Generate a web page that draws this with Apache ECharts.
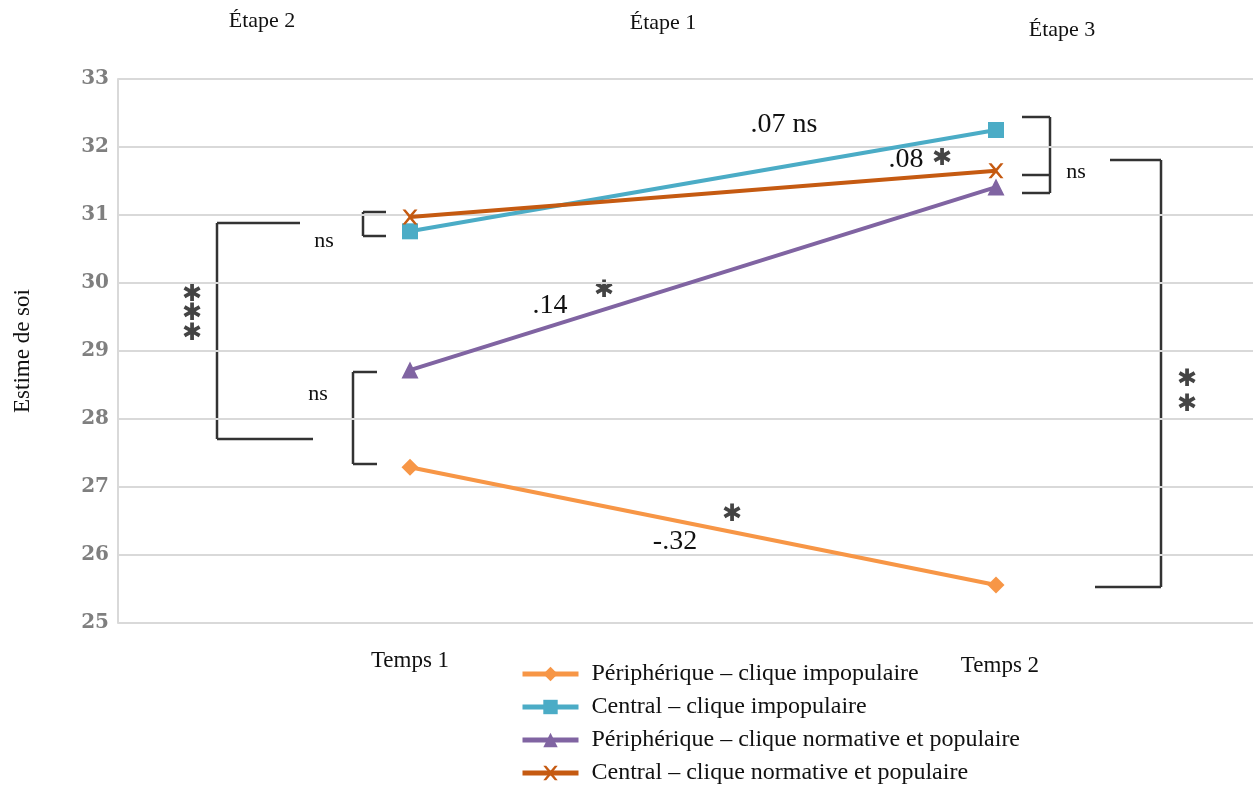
<!DOCTYPE html>
<html><head><meta charset="utf-8">
<script src="https://cdn.jsdelivr.net/npm/echarts@6/dist/echarts.min.js"></script>
<style>html,body{margin:0;padding:0;background:#fff}#c{width:1253px;height:786px}</style>
</head><body><div id="c"></div>
<script>
const categories = ['Temps 1', 'Temps 2'];
const seriesNames = ['Périphérique – clique impopulaire', 'Central – clique impopulaire', 'Périphérique – clique normative et populaire', 'Central – clique normative et populaire'];
const periphImpop = [27.29, 25.56];
const centralImpop = [30.76, 32.25];
const periphNorm = [28.72, 31.41];
const centralNorm = [30.97, 31.65];
const yTicks = [25, 26, 27, 28, 29, 30, 31, 32, 33];

const colors = ['#F79646', '#4BACC6', '#8064A2', '#C55A11'];
const symbols = ['diamond', 'rect', 'triangle', 'x'];
const values = [periphImpop, centralImpop, periphNorm, centralNorm];

const xSymbol = 'path://M0,0 L2,0 L5,3.5 L8,0 L10,0 L6,5 L10,10 L8,10 L5,6.5 L2,10 L0,10 L4,5 Z';

const chart = echarts.init(document.getElementById('c'));
const serif = '"Liberation Serif", "DejaVu Serif", serif';

const series = values.map((vals, i) => ({
  name: seriesNames[i],
  type: 'line',
  data: vals.map((v, j) => [j + 1, v]),
  symbol: symbols[i] === 'x' ? xSymbol : symbols[i],
  symbolSize: symbols[i] === 'x' ? 15 : (symbols[i] === 'rect' ? 16 : 17),
  itemStyle: { color: colors[i] },
  lineStyle: { color: colors[i], width: 4 },
  z: 3 + (i === 3 ? 1 : 0)
}));

const G = (t, x1, y1, x2, y2) => ({ type: 'line', shape: { x1, y1, x2, y2 }, style: { stroke: '#333', lineWidth: 2.5 } });
const T = (text, x, y, size, color, align) => ({ type: 'text', x, y, style: { text, font: size + 'px ' + serif, fill: color || '#111', align: align || 'center', verticalAlign: 'middle' } });
const A = (x, y) => ({ type: 'text', x, y, style: { text: '✱', font: '24px "DejaVu Sans", sans-serif', fill: '#444', align: 'center', verticalAlign: 'middle' } });

const graphics = [
  T('Étape 2', 262, 21, 22), T('Étape 1', 663, 23, 22), T('Étape 3', 1062, 30, 22),
  // left big bracket
  G(0, 217, 223, 217, 439), G(0, 217, 223, 300, 223), G(0, 217, 439, 313, 439),
  A(192, 295), A(192, 314), A(192, 334),
  // small top-left bracket
  G(0, 363, 212, 363, 236), G(0, 363, 212, 386, 212), G(0, 363, 236, 386, 236),
  T('ns', 324, 241, 22),
  // lower left bracket
  G(0, 353, 372, 353, 464), G(0, 353, 372, 377, 372), G(0, 353, 464, 377, 464),
  T('ns', 318, 394, 22),
  // right small bracket
  G(0, 1050, 117, 1050, 193), G(0, 1022, 117, 1050, 117), G(0, 1022, 175, 1050, 175), G(0, 1022, 193, 1050, 193),
  T('ns', 1076, 172, 22),
  // right big bracket
  G(0, 1161, 160, 1161, 587), G(0, 1110, 160, 1161, 160), G(0, 1095, 587, 1161, 587),
  A(1187, 380), A(1187, 405),
  // slope labels
  T('.07 ns', 784, 125, 28), T('.08', 906, 160, 28), A(942, 159),
  T('.14', 550, 306, 28), A(604, 291),
  T('-.32', 675, 542, 28), A(732, 515)
];

chart.setOption({
  animation: false,
  color: colors,
  grid: { left: 118, right: 0, top: 79, bottom: 163, containLabel: false },
  xAxis: {
    type: 'value', min: 0.5017, max: 2.4386,
    axisLine: { show: false }, axisTick: { show: false }, splitLine: { show: false },
    axisLabel: { show: false }
  },
  yAxis: {
    type: 'value', min: yTicks[0], max: yTicks[yTicks.length - 1], interval: 1,
    name: 'Estime de soi', nameLocation: 'middle', nameGap: 84, nameRotate: 90,
    nameTextStyle: { fontFamily: serif, fontSize: 23, color: '#111' },
    axisLine: { show: true, lineStyle: { color: '#d9d9d9', width: 2 } },
    axisTick: { show: false },
    splitLine: { lineStyle: { color: '#d9d9d9', width: 2 } },
    axisLabel: { color: '#7f7f7f', fontSize: 20, fontWeight: 'bold', fontFamily: '"DejaVu Serif", serif', margin: 9 }
  },
  legend: {
    orient: 'vertical', left: 515, top: 657, height: 200,
    itemWidth: 56, itemHeight: 18, itemGap: 9,
    lineStyle: { width: 5 },
    textStyle: { fontFamily: serif, fontSize: 24, color: '#111', padding: [0, 0, 0, 8] },
    data: seriesNames
  },
  graphic: graphics,
  series
});

// category labels under the points, positioned through the axis scale
const catY = [661, 666];
const catGraphics = categories.map((c, j) => {
  const p = chart.convertToPixel({ gridIndex: 0 }, [j + 1, yTicks[0]]);
  return T(c, p[0] + (j === 1 ? 4 : 0), catY[j], 23);
});
chart.setOption({ graphic: graphics.concat(catGraphics) });
</script></body></html>
